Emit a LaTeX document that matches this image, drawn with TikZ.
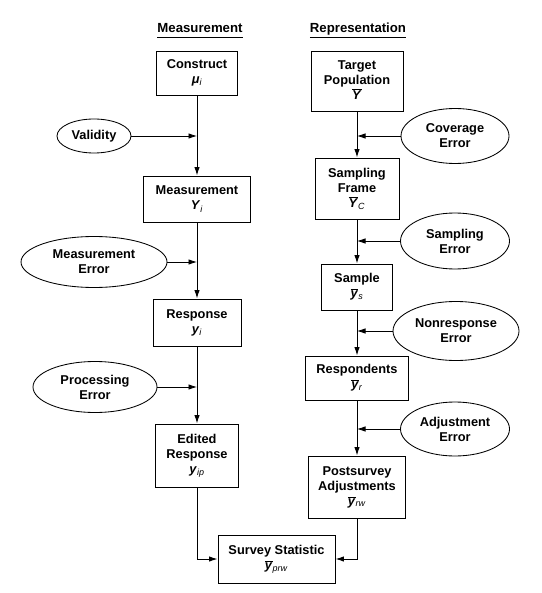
\documentclass[tikz,border=0pt]{standalone}
\usepackage{fontspec}
\setmainfont{Liberation Sans}
\usetikzlibrary{arrows.meta,shapes.geometric}

\newcommand{\vsym}[2]{\textbf{\textit{#1}}\textsubscript{\textit{\mdseries #2}}}
\newcommand{\vbar}[2]{$\overline{\mbox{\textbf{\textit{#1}}}}$\textsubscript{\textit{\mdseries #2}}}
\newcommand{\headline}[1]{\underline{#1\vphantom{p}}}

\begin{document}
\begin{tikzpicture}[x=1pt,y=-1pt,
    font=\fontsize{12.8}{15}\selectfont\bfseries,
    box/.style={draw,line width=0.95pt,align=center,inner sep=2pt},
    err/.style={draw,ellipse,line width=0.85pt,align=center,inner sep=0pt},
    flow/.style={line width=1pt,-{Latex[length=8.5pt,width=5.5pt]}},
    feed/.style={line width=0.8pt,-{Latex[length=8.5pt,width=5.5pt]}}]
      \useasboundingbox (0,0) rectangle (541,593);

      \node[anchor=base] (measHead) at (200,33) {\fontsize{13.2}{15}\selectfont\headline{Measurement}};
      \node[anchor=base] (reprHead) at (358,33) {\fontsize{13.2}{15}\selectfont\headline{Representation}};

      % measurement side
      \node[box,minimum width=81pt,minimum height=44pt] (construct) at (197,73) {Construct\\\vsym{μ}{i}};
      \node[box,minimum width=107pt,minimum height=46pt] (measure) at (197,199) {Measurement\\\vsym{Y}{i}};
      \node[box,minimum width=88pt,minimum height=47pt] (response) at (197,322.5) {Response\\\vsym{y}{i}};
      \node[box,minimum width=83pt,minimum height=63pt] (edited) at (197,455.5) {Edited\\Response\\\vsym{y}{ip}};

      \node[err,minimum width=74pt,minimum height=34pt] (valid) at (94,136) {Validity};
      \node[err,minimum width=146pt,minimum height=51pt] (measErr) at (94,262) {Measurement\\Error};
      \node[err,minimum width=124pt,minimum height=51pt] (procErr) at (95,387) {Processing\\Error};

      % representation side
      \node[box,minimum width=92pt,minimum height=60pt] (target) at (357,81) {Target\\Population\\\vbar{Y}{}};
      \node[box,minimum width=84pt,minimum height=61pt] (frame) at (357,188.5) {Sampling\\Frame\\\vbar{Y}{C}};
      \node[box,minimum width=71pt,minimum height=46pt] (sample) at (357,287) {Sample\\\vbar{y}{s}};
      \node[box,minimum width=103pt,minimum height=44pt] (resp) at (357,378) {Respondents\\\vbar{y}{r}};
      \node[box,minimum width=97pt,minimum height=62pt] (post) at (357,487) {Postsurvey\\Adjustments\\\vbar{y}{rw}};

      \node[err,minimum width=108pt,minimum height=55pt] (covErr) at (455,136) {Coverage\\Error};
      \node[err,minimum width=109pt,minimum height=56pt] (sampErr) at (455,241) {Sampling\\Error};
      \node[err,minimum width=126pt,minimum height=59pt] (nonErr) at (456,331) {Nonresponse\\Error};
      \node[err,minimum width=109pt,minimum height=54pt] (adjErr) at (455,429) {Adjustment\\Error};

      \node[box,minimum width=117pt,minimum height=48pt] (stat) at (276.5,559) {Survey Statistic\\\vbar{y}{prw}};

      % flows down each side
      \draw[flow] (construct) -- (measure);
      \draw[flow] (measure) -- (response);
      \draw[flow] (response) -- (edited);
      \draw[flow] (target) -- (frame);
      \draw[flow] (frame) -- (sample);
      \draw[flow] (sample) -- (resp);
      \draw[flow] (resp) -- (post);
      \draw[flow] (edited) |- (stat);
      \draw[flow] (post) |- (stat);

      % error sources
      \draw[feed] (valid) -- (valid -| construct);
      \draw[feed] (measErr) -- (measErr -| measure);
      \draw[feed] (procErr) -- (procErr -| response);
      \draw[feed] (covErr) -- (covErr -| target);
      \draw[feed] (sampErr) -- (sampErr -| frame);
      \draw[feed] (nonErr) -- (nonErr -| sample);
      \draw[feed] (adjErr) -- (adjErr -| resp);
\end{tikzpicture}
\end{document}
